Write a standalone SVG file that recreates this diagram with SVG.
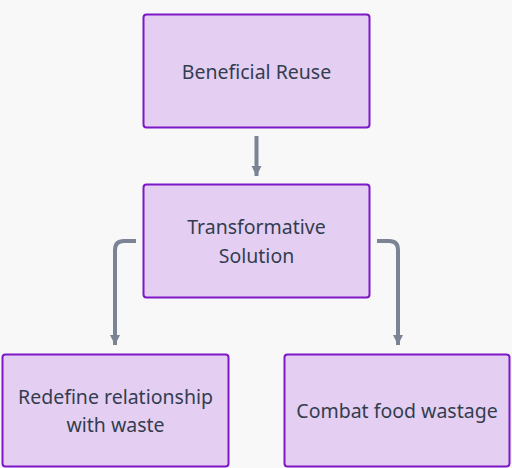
<svg xmlns="http://www.w3.org/2000/svg" width="512" height="468" viewBox="0 0 512 468">
<defs>
<style>
.box{fill:#e4cff3;stroke:#7d17c8;stroke-width:2}
.lbl{font-family:"Noto Sans",sans-serif;font-size:19.5px;fill:#333d4f;text-anchor:middle}
.edge{fill:none;stroke:#7b8494;stroke-width:4}
</style>
<marker id="ah" viewBox="0 0 10 10" refX="10" refY="5" markerWidth="2.6" markerHeight="4" markerUnits="strokeWidth" orient="auto">
<path d="M0,0 L10,5 L0,10 z" fill="#7b8494"/>
</marker>
</defs>
<rect width="512" height="468" fill="#f8f8f8"/>
<g id="edges">
<path class="edge" d="M256.5,136 V176" marker-end="url(#ah)"/>
<path class="edge" d="M136,241 H124 Q115,241 115,250 V345" marker-end="url(#ah)"/>
<path class="edge" d="M377,241 H389 Q398,241 398,250 V345" marker-end="url(#ah)"/>
</g>
<g id="n1"><rect class="box" x="143.5" y="14.5" width="226" height="113" rx="3"/><text class="lbl" x="256.5" y="79">Beneficial Reuse</text></g>
<g id="n2"><rect class="box" x="143.5" y="184.5" width="226" height="113" rx="3"/><text class="lbl" x="256.5" y="234">Transformative</text><text class="lbl" x="256.5" y="263">Solution</text></g>
<g id="n3"><rect class="box" x="2.5" y="354.5" width="226" height="112" rx="3"/><text class="lbl" x="115.5" y="404">Redefine relationship</text><text class="lbl" x="115.5" y="432">with waste</text></g>
<g id="n4"><rect class="box" x="284.5" y="354.5" width="225" height="112" rx="3"/><text class="lbl" x="397" y="418">Combat food wastage</text></g>
</svg>
